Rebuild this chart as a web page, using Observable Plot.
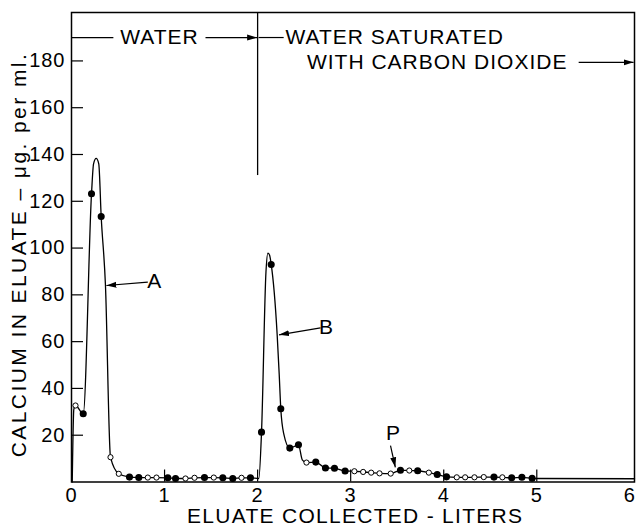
<!DOCTYPE html>
<html><head><meta charset="utf-8">
<script src="https://cdn.jsdelivr.net/npm/d3@7"></script>
<script src="https://cdn.jsdelivr.net/npm/@observablehq/plot@0.6"></script>
<style>body{margin:0;background:#fff}</style>
</head><body><div id="chart"></div>
<script>
// Sampled fractions (litres collected, µg Ca per ml), open = hollow marker
const sampleX = [0.043,0.126,0.215,0.319,0.419,0.508,0.623,0.723,0.82,0.913,1.035,1.118,1.225,1.322,1.429,1.529,1.626,1.733,1.827,1.923,
  2.042,2.146,2.249,2.346,2.439,2.525,2.625,2.729,2.826,2.94,3.04,3.134,3.22,3.31,3.43,3.535,3.63,3.72,3.84,3.93,
  4.03,4.14,4.23,4.33,4.43,4.54,4.63,4.73,4.84,4.95];
const sampleY = [32.7,29.2,123.2,113.5,10.6,3.5,2.1,1.9,1.9,1.9,1.8,1.5,1.5,1.8,1.9,1.9,1.8,1.5,1.8,1.8,
  21.3,93,31.3,14.5,15.9,8.3,8.5,6,5.9,4.7,4.6,4.3,4.0,3.7,3.6,5.0,4.9,4.8,4.0,3.2,
  2.2,2.0,2.0,2.0,2.1,2.1,2.0,1.8,2.0,1.6];
const sampleOpen = [1,0,0,0,1,1,0,0,1,1,0,0,1,1,0,1,0,0,1,0,
  0,0,0,0,0,1,0,0,0,0,1,1,1,1,1,0,1,0,1,0,
  0,1,1,1,1,0,1,0,0,0];
// Extra points (no marker)
const shapeX = [0.008,0.025,0.237,0.265,0.293,0.365,2.013,2.09,2.11,2.128,2.21,2.232,2.281,2.48,5.0,6.05];
const shapeY = [0,31,136,138.3,136,84,1.5,90,97.8,97,63,46,20.6,9.5,1.5,1.4];

const xTicks = [0,1,2,3,4,5,6];
const yTicks = [20,40,60,80,100,120,140,160,180];

const samples = sampleX.map((x,i)=>({x, y: sampleY[i], open: !!sampleOpen[i]}));
const curve = samples.concat(shapeX.map((x,i)=>({x, y: shapeY[i]}))).sort((a,b)=>a.x-b.x);

// Annotations (data coordinates)
const labelsMid = [
  {x:0.946, y:190, text:"WATER"},
  {x:0.895, y:86, text:"A"},
  {x:2.74, y:66, text:"B"},
  {x:3.46, y:21, text:"P"}
];
const labelsStart = [
  {x:2.30, y:190, text:"WATER SATURATED"},
  {x:2.53, y:179.4, text:"WITH CARBON DIOXIDE"}
];
const plainLines = [
  {x1:0, y1:190, x2:0.45, y2:190},
  {x1:2.01, y1:190, x2:2.28, y2:190}
];
const arrows = [
  {x1:1.44, y1:190, x2:1.995, y2:190},
  {x1:5.45, y1:179.4, x2:6.04, y2:179.4},
  {x1:0.82, y1:85.4, x2:0.375, y2:84},
  {x1:2.676, y1:65.9, x2:2.23, y2:62.9},
  {x1:3.428, y1:15.6, x2:3.48, y2:6.3}
];
const divider = {x:2, y1:131, y2:200.7};

function filledArrow(color) {
  return d3.create("svg:marker")
    .attr("viewBox", "-10 -4 10 8")
    .attr("markerWidth", 10).attr("markerHeight", 8)
    .attr("markerUnits", "userSpaceOnUse")
    .attr("orient", "auto")
    .attr("fill", color).attr("stroke", "none")
    .call(m => m.append("path").attr("d", "M-10,-3L0,0L-10,3Z"))
    .node();
}

const font = "'Liberation Sans', Arial, sans-serif";
const chart = Plot.plot({
  width: 639, height: 532,
  marginLeft: 71, marginRight: 5, marginTop: 12, marginBottom: 50.5,
  style: {fontFamily: font, color: "black", background: "white", letterSpacing: "1px"},
  x: {domain: [0, 6.05]},
  y: {domain: [0, 200.7]},
  marks: [
    Plot.frame({stroke: "black", strokeWidth: 1.5}),
    Plot.axisY({ticks: yTicks, tickSize: 0, tickPadding: 6, fontSize: 20, label: null, tickFormat: d3.format("d")}),
    Plot.axisY({ticks: yTicks, tickSize: 12, dx: 12, tickFormat: () => "", label: null, strokeWidth: 1.2}),
    Plot.axisX({ticks: xTicks, tickSize: 0, tickPadding: 6, fontSize: 20, label: null, tickFormat: d3.format("d")}),
    Plot.axisX({ticks: [1,2,3,4,5], tickSize: 12, dy: -12, tickFormat: () => "", label: null, strokeWidth: 1.2}),
    Plot.ruleX([divider], {x: "x", y1: "y1", y2: "y2", stroke: "black", strokeWidth: 1.3}),
    Plot.line(curve, {x: "x", y: "y", curve: "monotone-x", stroke: "black", strokeWidth: 1.3}),
    Plot.dot(samples.filter(d=>!d.open), {x: "x", y: "y", r: 2.8, fill: "black", stroke: "black"}),
    Plot.dot(samples.filter(d=>d.open), {x: "x", y: "y", r: 2.6, fill: "white", stroke: "black", strokeWidth: 1}),
    Plot.link(plainLines, {x1:"x1", y1:"y1", x2:"x2", y2:"y2", stroke:"black", strokeWidth:1.2}),
    Plot.link(arrows, {x1:"x1", y1:"y1", x2:"x2", y2:"y2", stroke:"black", strokeWidth:1.2, markerEnd: filledArrow}),
    Plot.text(labelsMid, {x:"x", y:"y", text:"text", textAnchor: "middle", fontSize: 21, fill:"black"}),
    Plot.text(labelsStart, {x:"x", y:"y", text:"text", textAnchor: "start", fontSize: 21, fill:"black"}),
    Plot.text(["CALCIUM IN ELUATE – μg. per ml."], {frameAnchor:"left", rotate:-90, dx:-52, dy:8, fontSize:21, fill:"black", textAnchor:"middle"}),
    Plot.text(["ELUATE COLLECTED - LITERS"], {frameAnchor:"bottom", dx:2, dy:41, fontSize:21, fill:"black", textAnchor:"middle"})
  ]
});
document.getElementById("chart").appendChild(chart);
// stretch axis titles to the lettered widths of the reference
d3.select(chart).selectAll("text").each(function(){
  const t = this.textContent;
  if (t.startsWith("CALCIUM")) d3.select(this).attr("textLength", 404).attr("lengthAdjust","spacing");
  if (t.startsWith("ELUATE")) d3.select(this).attr("textLength", 336).attr("lengthAdjust","spacing");
});
</script>
</body></html>
